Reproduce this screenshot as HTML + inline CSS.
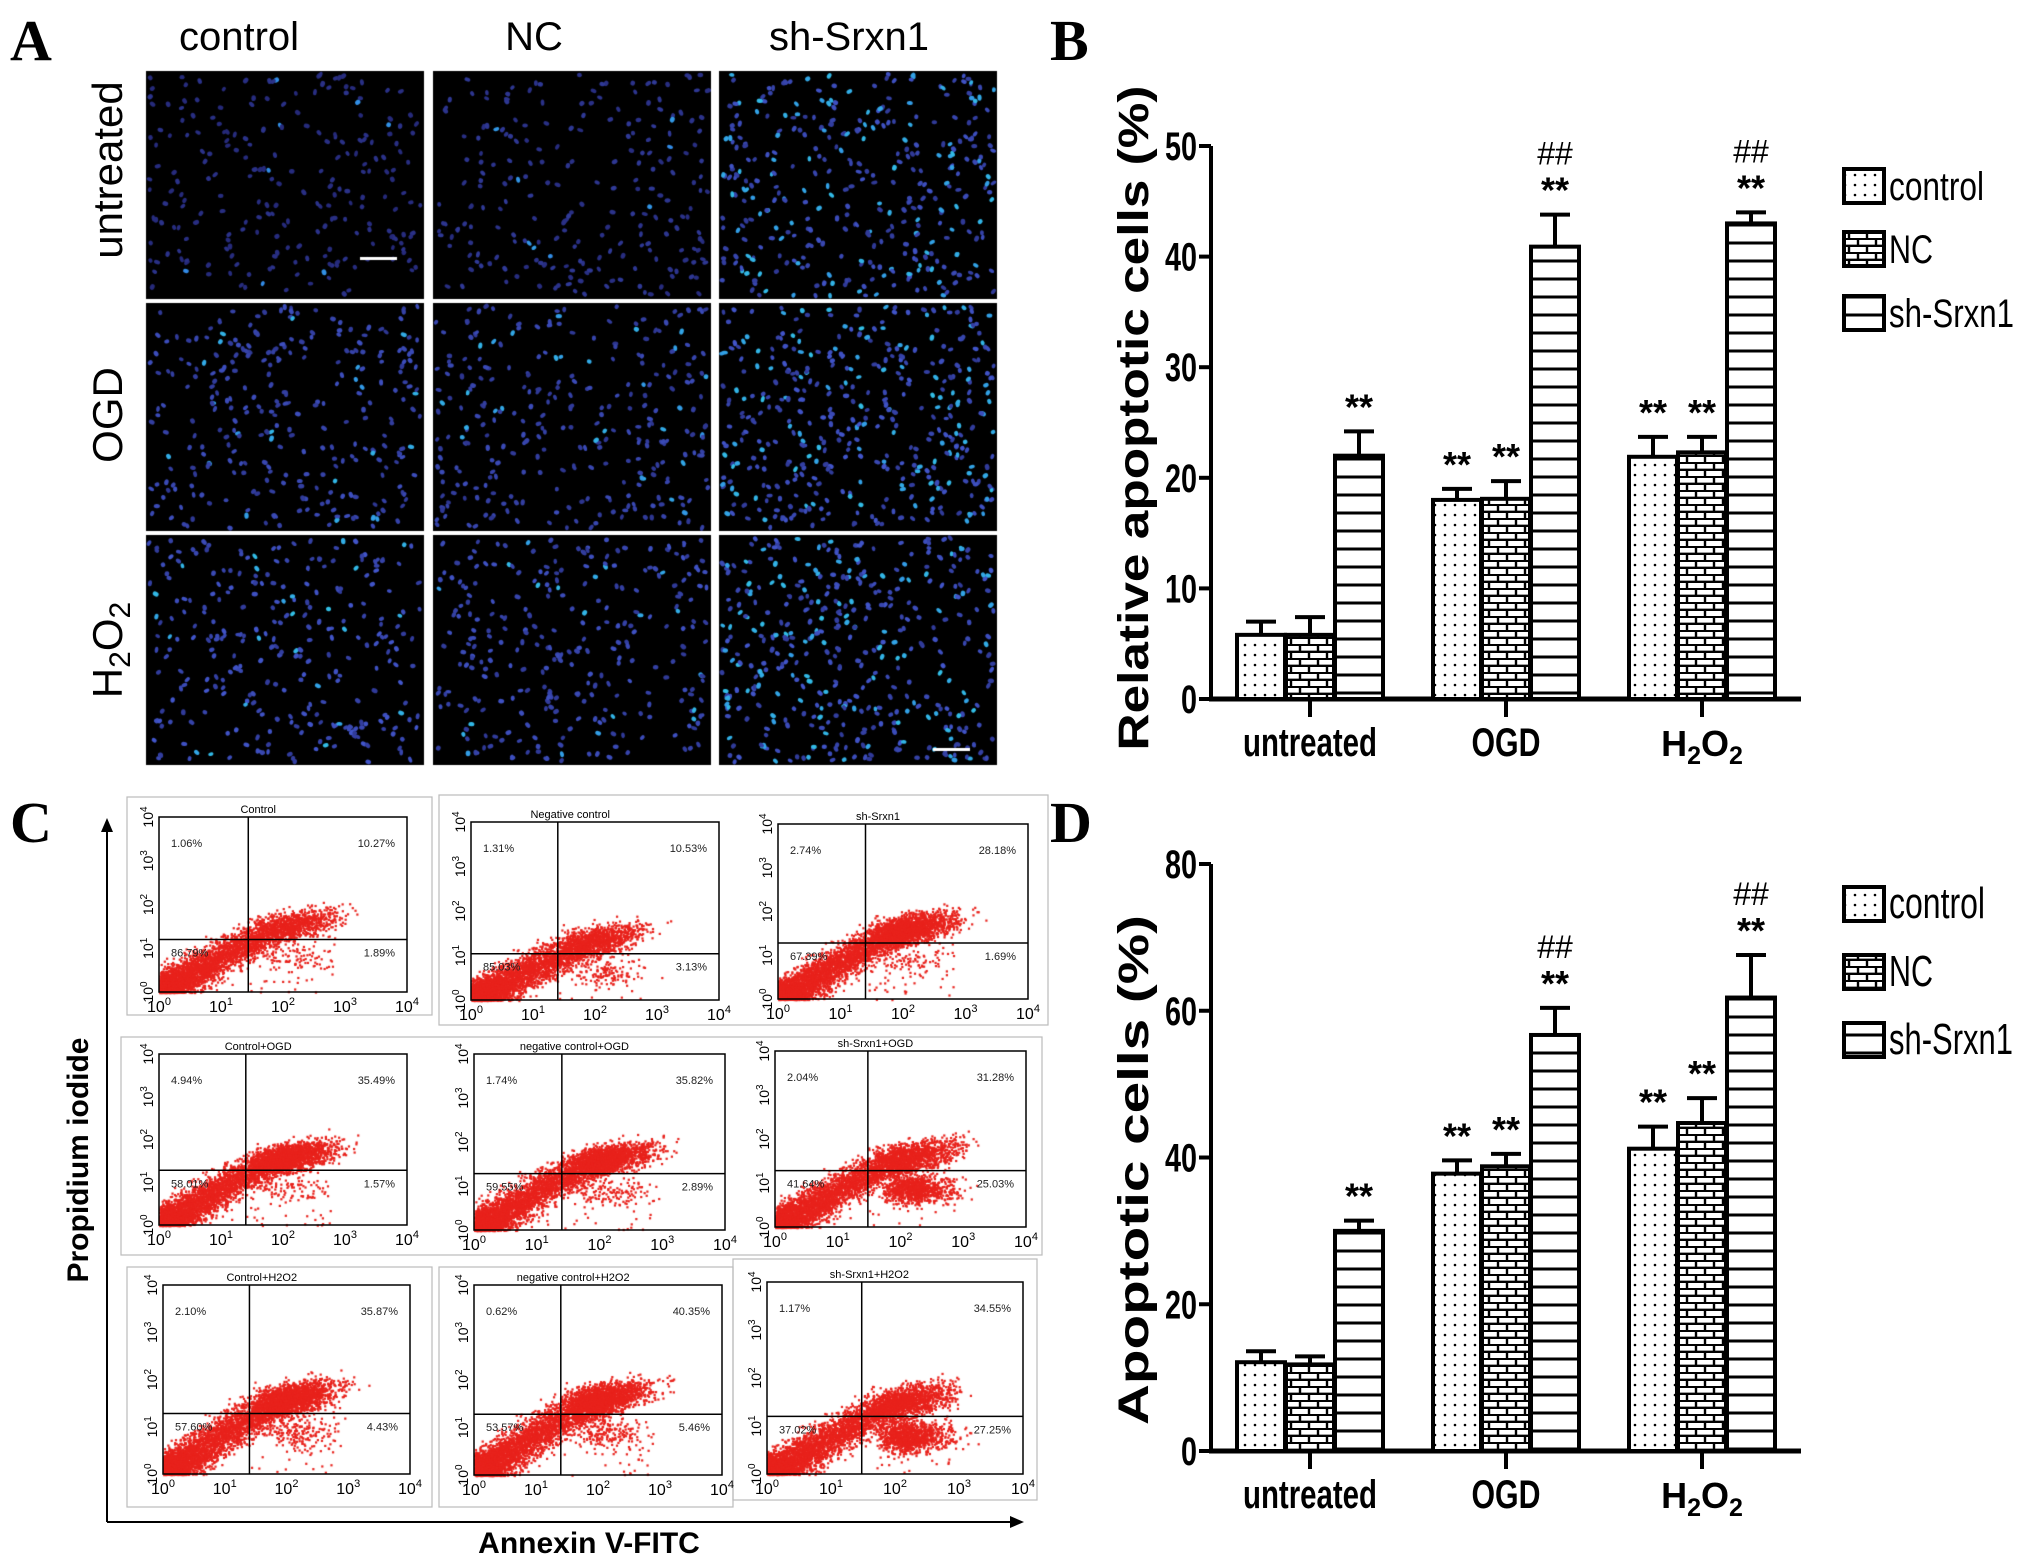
<!DOCTYPE html>
<html><head><meta charset="utf-8"><style>
html,body{margin:0;padding:0;background:#fff;}
#wrap{position:relative;width:2031px;height:1564px;overflow:hidden;}
#cv{position:absolute;left:0;top:0;}
#svg{position:absolute;left:0;top:0;}
text{font-family:"Liberation Sans",sans-serif;}
.ser{font-family:"Liberation Serif",serif;font-weight:bold;}
</style></head><body>
<div id="wrap">
<canvas id="cv" width="2031" height="1564"></canvas>
<svg id="svg" width="2031" height="1564" xmlns="http://www.w3.org/2000/svg">
<defs>
<pattern id="pDots" width="10" height="10" patternUnits="userSpaceOnUse"><rect width="10" height="10" fill="#fff"/><circle cx="5" cy="5" r="1.3" fill="#000"/></pattern>
<pattern id="pBrick" width="18" height="14" patternUnits="userSpaceOnUse"><rect width="18" height="14" fill="#fff"/><path d="M0 0.8H18M0 7.8H18M4 0V7M13 7V14" stroke="#000" stroke-width="2.4"/></pattern>
<pattern id="pLines" width="10" height="18" patternUnits="userSpaceOnUse"><rect width="10" height="18" fill="#fff"/><path d="M0 9H10" stroke="#000" stroke-width="3"/></pattern>
</defs>
<g id="gA">
<text x="10" y="60" class="ser" font-size="58">A</text>
<text x="239" y="50" font-size="40" text-anchor="middle">control</text>
<text x="534" y="50" font-size="40" text-anchor="middle">NC</text>
<text x="849" y="50" font-size="40" text-anchor="middle">sh-Srxn1</text>
<text transform="translate(122,170) rotate(-90)" font-size="42" text-anchor="middle">untreated</text>
<text transform="translate(122,415) rotate(-90)" font-size="42" text-anchor="middle">OGD</text>
<text transform="translate(122,650) rotate(-90)" font-size="42" text-anchor="middle">H<tspan font-size="30" dy="8">2</tspan><tspan dy="-8">O</tspan><tspan font-size="30" dy="8">2</tspan></text>
</g>
<g id="gC">
<text x="10" y="842" class="ser" font-size="58">C</text>
<line x1="107" y1="1522" x2="107" y2="828" stroke="#000" stroke-width="2"/>
<path d="M107 818 L101 832 L113 832Z" fill="#000"/>
<line x1="107" y1="1522" x2="1012" y2="1522" stroke="#000" stroke-width="2"/>
<path d="M1024 1522 L1010 1516 L1010 1528Z" fill="#000"/>
<text transform="translate(88,1160) rotate(-90)" font-size="30" font-weight="bold" text-anchor="middle">Propidium iodide</text>
<text x="589" y="1553" font-size="30" font-weight="bold" text-anchor="middle">Annexin V-FITC</text>
</g>
<g id="gB"></g>
<g id="gD"></g>
</svg>
</div>
<script>
// ===== Panel B data =====
const groups = ['untreated', 'OGD', 'H2O2'];
const seriesNames = ['control', 'NC', 'sh-Srxn1'];
const bControl = [5.8, 18.0, 21.9];
const bNC = [5.8, 18.1, 22.3];
const bSh = [22.0, 40.9, 43.0];
const bControlErr = [1.2, 1.0, 1.8];
const bNCErr = [1.6, 1.6, 1.4];
const bShErr = [2.2, 2.9, 1.0];
const bStarsControl = [false, true, true];
const bStarsNC = [false, true, true];
const bStarsSh = [true, true, true];
const bHashSh = [false, true, true];
const bTicks = [0, 10, 20, 30, 40, 50];
// ===== Panel D data =====
const dControl = [12.1, 37.8, 41.2];
const dNC = [11.8, 38.8, 44.7];
const dSh = [30.0, 56.7, 61.8];
const dControlErr = [1.5, 1.8, 3.0];
const dNCErr = [1.1, 1.7, 3.4];
const dShErr = [1.4, 3.7, 5.8];
const dStarsControl = [false, true, true];
const dStarsNC = [false, true, true];
const dStarsSh = [true, true, true];
const dHashSh = [false, true, true];
const dTicks = [0, 20, 40, 60, 80];

const NS = 'http://www.w3.org/2000/svg';
function mk(parent, tag, attrs, txt) {
  const e = document.createElementNS(NS, tag);
  for (const k in attrs) e.setAttribute(k, attrs[k]);
  if (txt !== undefined) e.textContent = txt;
  parent.appendChild(e);
  return e;
}
const fills = ['url(#pDots)', 'url(#pBrick)', 'url(#pLines)'];
const xLeft = 1211, xRight = 1801, groupStart = 1310, groupStep = 196, barW = 48, barOff = 49;
function xGroup(i) { return groupStart + i * groupStep; }
function xBar(i, s) { return xGroup(i) + (s - 1) * barOff; }

function drawChart(g, cfg) {
  const yScale = v => cfg.y0 - v * (cfg.y0 - cfg.yTop) / cfg.vmax;
  let t = mk(g, 'text', {x: 1050, y: cfg.labelY, 'class': 'ser', 'font-size': 58}, cfg.label);
  
  
  let ay = mk(g, 'line', {x1: xLeft, y1: cfg.y0 + 2, x2: xLeft, y2: yScale(cfg.vmax), stroke: '#000', 'stroke-width': 4});
  
  
  let ax = mk(g, 'line', {x1: xLeft - 2, y1: cfg.y0, x2: xRight, y2: cfg.y0, stroke: '#000', 'stroke-width': 5});
  
  
  cfg.ticks.forEach(v => {
    const y = yScale(v);
    const tl = mk(g, 'line', {x1: xLeft - 12, y1: y, x2: xLeft, y2: y, stroke: '#000', 'stroke-width': 4});
    
    
    const s = String(v);
    const tt = mk(g, 'text', {x: xLeft - 14, y: y + 14, 'font-size': 40, 'font-weight': 'bold', 'text-anchor': 'end', textLength: 16 * s.length, lengthAdjust: 'spacingAndGlyphs'}, s);
    
    
  });
  groups.forEach((gname, i) => {
    const x = xGroup(i);
    const tk = mk(g, 'line', {x1: x, y1: cfg.y0, x2: x, y2: cfg.y0 + 18, stroke: '#000', 'stroke-width': 4});
    
    
    let lbl;
    if (gname === 'H2O2') {
      lbl = mk(g, 'text', {x: x, y: cfg.y0 + 57, 'font-size': 36, 'font-weight': 'bold', 'text-anchor': 'middle'});
      lbl.innerHTML = 'H<tspan font-size="25" dy="8">2</tspan><tspan dy="-8">O</tspan><tspan font-size="25" dy="8">2</tspan>';
    } else {
      lbl = mk(g, 'text', {x: x, y: cfg.y0 + 57, 'font-size': 40, 'font-weight': 'bold', 'text-anchor': 'middle', textLength: gname === 'OGD' ? 69 : 134, lengthAdjust: 'spacingAndGlyphs'}, gname);
    }
    
    
  });
  const vals = [cfg.c, cfg.n, cfg.s], errs = [cfg.ce, cfg.ne, cfg.se], stars = [cfg.cs, cfg.ns, cfg.ss];
  for (let s = 0; s < 3; s++) {
    for (let i = 0; i < groups.length; i++) {
      const cx = xBar(i, s), top = yScale(vals[s][i]), et = yScale(vals[s][i] + errs[s][i]);
      const eb = mk(g, 'line', {x1: cx, y1: top, x2: cx, y2: et, stroke: '#000', 'stroke-width': 4});
      
      
      const cap = mk(g, 'line', {x1: cx - 15, y1: et, x2: cx + 15, y2: et, stroke: '#000', 'stroke-width': 4});
      
      
      const r = mk(g, 'rect', {x: cx - barW / 2, y: top, width: barW, height: cfg.y0 - top, fill: fills[s], stroke: '#000', 'stroke-width': 4});
      
      
      if (stars[s][i]) {
        const st = mk(g, 'text', {x: cx, y: et - 12, 'font-size': 36, 'font-weight': 'bold', 'text-anchor': 'middle'}, '**');
        
        
      }
      if (s === 2 && cfg.hs[i]) {
        const hs = mk(g, 'text', {x: cx, y: et - 50, 'font-size': 32, 'text-anchor': 'middle', 'font-family': 'Liberation Serif, serif'}, '##');
        
        
      }
    }
  }
  const yt = mk(g, 'text', {transform: 'translate(1148,' + cfg.titleY + ') rotate(-90)', 'font-size': 43, 'font-weight': 'bold', 'text-anchor': 'middle', textLength: cfg.titleLen, lengthAdjust: 'spacingAndGlyphs'}, cfg.title);
  
  
  seriesNames.forEach((nm, s) => {
    const ly = cfg.legY[s];
    const lr = mk(g, 'rect', {x: 1844, y: ly, width: 40, height: 34, fill: fills[s], stroke: '#000', 'stroke-width': 4});
    
    
    const lt = mk(g, 'text', {x: 1889, y: ly + 31, 'font-size': cfg.legFont, textLength: cfg.legLen[s], lengthAdjust: 'spacingAndGlyphs'}, nm);
    
    
  });
}
drawChart(document.getElementById('gB'), {label: 'B', labelY: 60, y0: 699, yTop: 146, vmax: 50, ticks: bTicks,
  c: bControl, n: bNC, s: bSh, ce: bControlErr, ne: bNCErr, se: bShErr, cs: bStarsControl, ns: bStarsNC, ss: bStarsSh, hs: bHashSh,
  title: 'Relative apoptotic cells (%)', titleY: 418, titleLen: 665, legY: [169, 232, 296], legFont: 40, legLen: [95, 44, 125]});
drawChart(document.getElementById('gD'), {label: 'D', labelY: 842, y0: 1451, yTop: 864, vmax: 80, ticks: dTicks,
  c: dControl, n: dNC, s: dSh, ce: dControlErr, ne: dNCErr, se: dShErr, cs: dStarsControl, ns: dStarsNC, ss: dStarsSh, hs: dHashSh,
  title: 'Apoptotic cells (%)', titleY: 1170, titleLen: 510, legY: [887, 955, 1023], legFont: 44, legLen: [96, 44, 124]});

// ===== decorative raster layers (microscopy + flow cytometry) =====
let seed = 12345;
function rnd() { seed = (seed * 1103515245 + 12345) & 0x7fffffff; return seed / 0x7fffffff; }
function gauss() { let s = 0; for (let i = 0; i < 4; i++) s += rnd(); return (s - 2) / 0.577; }
const cv = document.getElementById('cv'), ctx = cv.getContext('2d');
const gA = document.getElementById('gA'), gC = document.getElementById('gC');
const cols = [[146, 424], [433, 711], [719, 997]];
const rows = [[71, 299], [303, 531], [535, 765]];
const bright = [[0.3, 0.4, 0.75], [0.7, 0.65, 0.8], [0.8, 0.75, 0.8]];
for (let r = 0; r < 3; r++) for (let c = 0; c < 3; c++) {
  const [x0, x1] = cols[c], [y0, y1] = rows[r];
  ctx.fillStyle = '#000'; ctx.fillRect(x0, y0, x1 - x0, y1 - y0);
  const b = bright[r][c];
  const n = 230 + (c === 2 ? 130 : 0) + (r > 0 ? 60 : 0);
  for (let k = 0; k < n; k++) {
    const x = x0 + 3 + rnd() * (x1 - x0 - 6), y = y0 + 3 + rnd() * (y1 - y0 - 6);
    const v = b * (0.5 + 0.5 * rnd());
    const cyan = rnd() < (c === 2 ? 0.35 : 0.1) * b;
    let R = Math.round(30 + 45 * v), G = Math.round(30 + 70 * v), B = Math.round(100 + 130 * v);
    if (cyan) { R = 50; G = Math.round(120 + 90 * v); B = 230; }
    ctx.fillStyle = 'rgb(' + R + ',' + G + ',' + B + ')';
    ctx.beginPath(); ctx.ellipse(x, y, 2.4 + rnd() * 0.8, 1.8 + rnd() * 0.6, rnd() * 3, 0, 6.3); ctx.fill();
  }
  const im = mk(gA, 'rect', {x: x0, y: y0, width: x1 - x0, height: y1 - y0, fill: 'none'});
  
  
}
ctx.fillStyle = '#fff'; ctx.fillRect(360, 257, 37, 3); ctx.fillRect(933, 748, 37, 3);

const frames = [[127, 797, 432, 1015], [439, 795, 1048, 1025], [121, 1037, 1042, 1255], [127, 1267, 432, 1507], [439, 1267, 733, 1507], [733, 1259, 1037, 1500]];
frames.forEach(f => { const fr = mk(gC, 'rect', {x: f[0], y: f[1], width: f[2] - f[0], height: f[3] - f[1], fill: 'none', stroke: '#bbb', 'stroke-width': 1.2});
    });
const plots = [
 {r: [159, 817, 407, 992], t: 'Control', p: ['1.06%', '10.27%', '86.79%', '1.89%'], qx: 0.36, qy: 0.7, up: 0.5, lr: 0.05},
 {r: [471, 822, 719, 1000], t: 'Negative control', p: ['1.31%', '10.53%', '85.03%', '3.13%'], qx: 0.35, qy: 0.74, up: 0.5, lr: 0.08},
 {r: [778, 824, 1028, 999], t: 'sh-Srxn1', p: ['2.74%', '28.18%', '67.39%', '1.69%'], qx: 0.35, qy: 0.68, up: 1.0, lr: 0.05},
 {r: [159, 1054, 407, 1225], t: 'Control+OGD', p: ['4.94%', '35.49%', '58.01%', '1.57%'], qx: 0.35, qy: 0.68, up: 1.0, lr: 0.05},
 {r: [474, 1054, 725, 1230], t: 'negative control+OGD', p: ['1.74%', '35.82%', '59.55%', '2.89%'], qx: 0.35, qy: 0.68, up: 1.0, lr: 0.08},
 {r: [775, 1051, 1026, 1227], t: 'sh-Srxn1+OGD', p: ['2.04%', '31.28%', '41.64%', '25.03%'], qx: 0.37, qy: 0.68, up: 0.7, lr: 0.6},
 {r: [163, 1285, 410, 1474], t: 'Control+H2O2', p: ['2.10%', '35.87%', '57.60%', '4.43%'], qx: 0.35, qy: 0.68, up: 1.0, lr: 0.12},
 {r: [474, 1285, 722, 1475], t: 'negative control+H2O2', p: ['0.62%', '40.35%', '53.57%', '5.46%'], qx: 0.35, qy: 0.68, up: 1.0, lr: 0.12},
 {r: [767, 1282, 1023, 1474], t: 'sh-Srxn1+H2O2', p: ['1.17%', '34.55%', '37.02%', '27.25%'], qx: 0.37, qy: 0.7, up: 0.7, lr: 0.7}
];
plots.forEach((P, idx) => {
  const [x0, y0, x1, y1] = P.r, w = x1 - x0, h = y1 - y0;
  ctx.fillStyle = '#e8221c';
  const hy = 1 - P.qy; // horizontal gate in frac-from-bottom
  function dot(fx, fy) { if (fx < 0 || fx > 1 || fy < 0 || fy > 1) return; ctx.fillRect(x0 + fx * w, y1 - fy * h, 2.2, 2.2); }
  // diagonal lower-left population
  for (let k = 0; k < 3200; k++) {
    const t = Math.pow(rnd(), 1.6) * (P.qx + 0.08);
    const fx = t + gauss() * 0.04, fy = t * (hy + 0.03) / (P.qx + 0.05) + gauss() * 0.045;
    dot(Math.abs(fx), Math.abs(fy));
  }
  // upper right cloud
  const nUp = Math.round(1800 * P.up);
  for (let k = 0; k < nUp; k++) {
    const fx = P.qx + 0.02 + Math.abs(gauss()) * 0.12 + rnd() * 0.12;
    const fy = hy + 0.03 + (fx - P.qx) * 0.3 + gauss() * 0.04;
    dot(fx, fy);
  }
  // lower right cloud
  const nLr = Math.round(1500 * P.lr);
  for (let k = 0; k < nLr; k++) {
    const fx = P.qx + 0.05 + Math.abs(gauss()) * 0.1 + rnd() * 0.12;
    const fy = hy - 0.1 + gauss() * 0.04;
    dot(fx, fy);
  }
  for (let k = 0; k < 60; k++) dot(P.qx + rnd() * 0.35, rnd() * (hy + 0.15));
  const box = mk(gC, 'rect', {x: x0, y: y0, width: w, height: h, fill: 'none', stroke: '#000', 'stroke-width': 1.5});
   
  const vl = mk(gC, 'line', {x1: x0 + P.qx * w, y1: y0, x2: x0 + P.qx * w, y2: y1, stroke: '#000', 'stroke-width': 1.5});
   
  const hl = mk(gC, 'line', {x1: x0, y1: y0 + P.qy * h, x2: x1, y2: y0 + P.qy * h, stroke: '#000', 'stroke-width': 1.5});
   
  const tt = mk(gC, 'text', {x: x0 + w * 0.4, y: y0 - 4, 'font-size': 11, 'text-anchor': 'middle'}, P.t);
   
  const pos = [[x0 + 12, y0 + 30, 'start'], [x1 - 12, y0 + 30, 'end'], [x0 + 12, y0 + P.qy * h + 17, 'start'], [x1 - 12, y0 + P.qy * h + 17, 'end']];
  P.p.forEach((s, q) => { const pt = mk(gC, 'text', {x: pos[q][0], y: pos[q][1], 'font-size': 11, 'text-anchor': pos[q][2], fill: '#222'}, s);
      });
  for (let d = 0; d <= 4; d++) {
    const xx = x0 + d * w / 4;
    const xt = mk(gC, 'text', {x: xx, y: y1 + 20, 'font-size': 16, 'text-anchor': 'middle'});
    xt.innerHTML = '10<tspan font-size="11" dy="-7">' + d + '</tspan>';
     
    const yy = y1 - d * h / 4;
    const yt = mk(gC, 'text', {transform: 'translate(' + (x0 - 6) + ',' + yy + ') rotate(-90)', 'font-size': 14, 'text-anchor': 'middle'});
    yt.innerHTML = '10<tspan font-size="10" dy="-6">' + d + '</tspan>';
     
  }
});
</script>
</body></html>
